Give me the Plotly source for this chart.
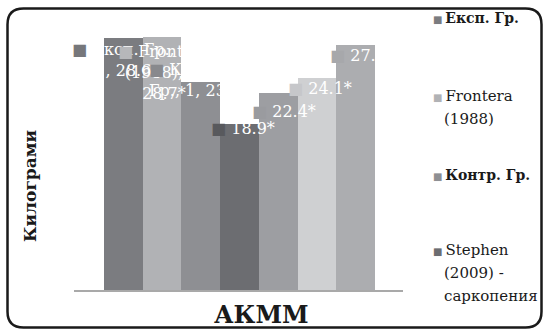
import plotly.graph_objects as go

# ---- data ----
category = "АКММ"
y_title = "Килограми"
series = ["Експ. Гр.", "Frontera (1988)", "Контр. Гр.", "Stephen (2009) - саркопения",
          "Серия 5", "Серия 6", "Серия 7"]
values = [28.6, 28.7, 23.6, 18.9, 22.4, 24.1, 27.8]
value_text = ["28.6", "28.7*", "23.6*", "18.9*", "22.4*", "24.1*", "27.8*"]
bar_colors = ["#7b7c80", "#b1b2b5", "#8e8f93", "#6c6d71", "#9d9ea2", "#cfd0d2", "#acadb0"]
key_colors = ["#76777b", "#b6b7ba", "#88898d", "#58595d", "#9a9b9f", "#c6c7ca", "#a7a8ab"]
legend_lines = [["Експ. Гр."], ["Frontera", "(1988)"], ["Контр. Гр."],
                ["Stephen", "(2009) -", "саркопения"]]
legend_bold = [True, False, True, False]
# data-label wording (series name, category index, value), wrapped as in the source
label_lines = [
    ["Експ. Гр.,", "1, " + value_text[0]],
    ["Frontera", "(1988), 1,", value_text[1]],
    ["Контр.", "Гр., 1, " + value_text[2]],
    [value_text[3]], [value_text[4]], [value_text[5]], [value_text[6]],
]

# ---- layout constants ----
W, H = 543, 330
L, R, T, B = 74, 140, 26, 40
PW, PH = W - L - R, H - T - B
SERIF = "DejaVu Serif"


def px(x):
    return (x - L) / PW


def py(y):
    return 1 - (y - T) / PH


fig = go.Figure()
for i, (name, v, c) in enumerate(zip(series, values, bar_colors)):
    fig.add_trace(go.Bar(x=[i], y=[v], width=1, name=name, marker=dict(color=c, line=dict(width=0)),
                         showlegend=False, hovertemplate=f"{name}<br>{category}: %{{y}}<extra></extra>"))

annotations = []
# data labels: (xshift, yshift, anchor) styling per label
label_style = [(-34, 0, "top", "center"), (-27, -3, "top", "center"), (-34, 24, "top", "left"),
               (-11, -5, "middle", "left"), (-9, -19, "middle", "left"),
               (-12, -11, "middle", "left"), (-8, -10, "middle", "left")]
for i, lines in enumerate(label_lines):
    xs, ys, ya, al = label_style[i]
    first = f'<span style="color:{key_colors[i]}">■</span> ' + lines[0]
    txt = "<br>".join([first] + lines[1:])
    annotations.append(dict(x=i - 0.5, y=values[i], xref="x", yref="y", text=txt, showarrow=False,
                            xanchor="left", yanchor=ya, align=al, xshift=xs, yshift=ys,
                            font=dict(family=SERIF, size=16, color="white")))

# legend (drawn as text entries with coloured keys)
legend_top = [18, 96, 175, 250]
for k, lines in enumerate(legend_lines):
    for j, line in enumerate(lines):
        if legend_bold[k]:
            line = f"<b>{line}</b>"
        if j == 0:
            line = f'<span style="color:{bar_colors[k]};font-size:10px">■</span>' + "\u2009" + line
            xpos = 431
        else:
            xpos = 442
        annotations.append(dict(x=px(xpos), y=py(legend_top[k] + 23 * j), xref="paper", yref="paper",
                                text=line, showarrow=False, xanchor="left", yanchor="middle",
                                font=dict(family=SERIF, size=14 if legend_bold[k] else 15, color="#1a1a1a")))

# axis titles
annotations.append(dict(x=px(261), y=py(314), xref="paper", yref="paper", text=f"<b>{category}</b>",
                        showarrow=False, xanchor="center", yanchor="middle",
                        font=dict(family=SERIF, size=24, color="#1a1a1a")))
annotations.append(dict(x=px(30), y=py(186), xref="paper", yref="paper", text=f"<b>{y_title}</b>",
                        showarrow=False, textangle=-90, xanchor="center", yanchor="middle",
                        font=dict(family=SERIF, size=17, color="#1a1a1a")))

# rounded frame
x0, x1, y0, y1, r = 7.5, 541.5, 8.5, 327.5, 16
P = lambda a, b: f"{px(a)},{py(b)}"
path = (f"M{P(x0 + r, y0)} L{P(x1 - r, y0)} Q{P(x1, y0)} {P(x1, y0 + r)} L{P(x1, y1 - r)} "
        f"Q{P(x1, y1)} {P(x1 - r, y1)} L{P(x0 + r, y1)} Q{P(x0, y1)} {P(x0, y1 - r)} "
        f"L{P(x0, y0 + r)} Q{P(x0, y0)} {P(x0 + r, y0)} Z")

bar_w = (375 - 104) / len(values)
xr = [-0.5 - (104 - L) / bar_w, len(values) - 0.5 + (L + PW - 375) / bar_w]

fig.update_layout(
    width=W, height=H, margin=dict(l=L, r=R, t=T, b=B),
    paper_bgcolor="white", plot_bgcolor="white", barmode="overlay", bargap=0,
    xaxis=dict(range=xr, showline=True, linecolor="#a9a9a9", linewidth=1.5, showticklabels=False,
               ticks="", showgrid=False, zeroline=False, fixedrange=True),
    yaxis=dict(range=[0, 30], showline=False, showticklabels=False, ticks="", showgrid=False,
               zeroline=False, fixedrange=True),
    annotations=annotations,
    shapes=[dict(type="path", xref="paper", yref="paper", path=path,
                 line=dict(color="#1a1a1a", width=2.5), layer="above")],
    showlegend=False,
)
fig.write_html("out.html")
